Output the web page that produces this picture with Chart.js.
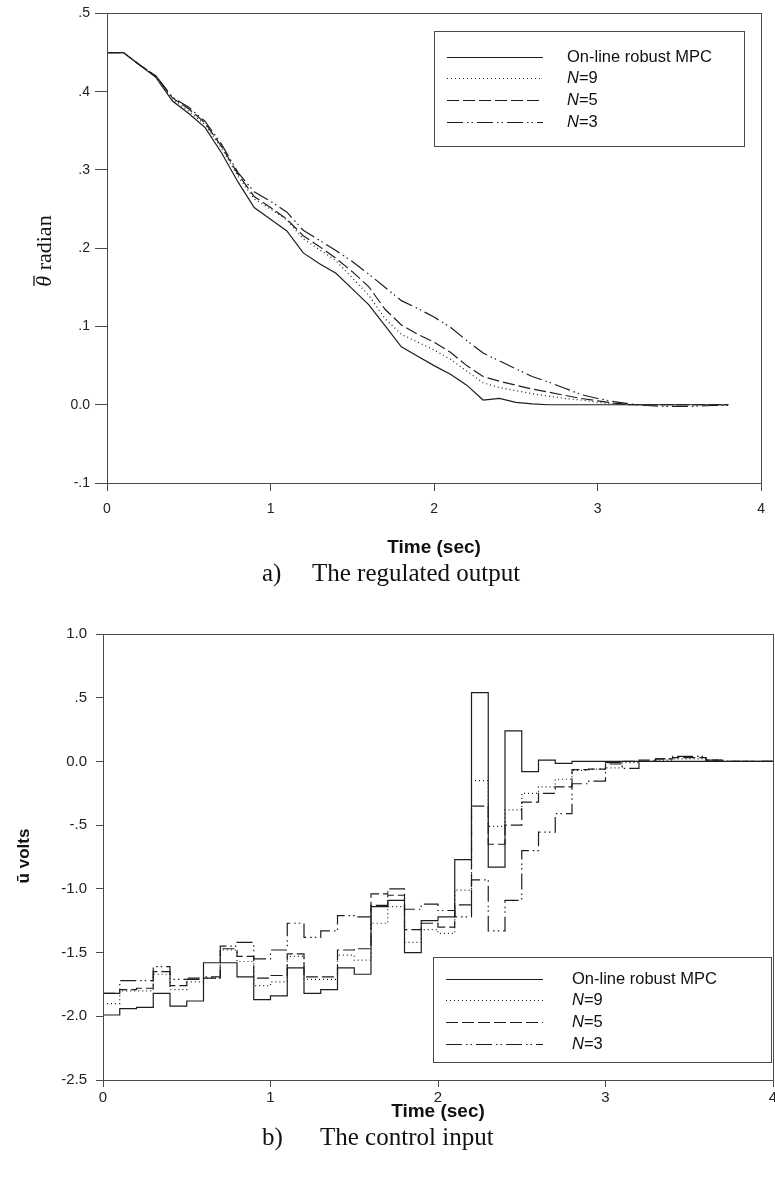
<!DOCTYPE html>
<html>
<head>
<meta charset="utf-8">
<script src="https://cdn.jsdelivr.net/npm/chart.js@4.4.1/dist/chart.umd.min.js"></script>
<style>
  html, body { margin: 0; padding: 0; background: #fff; width: 775px; height: 1182px; overflow: hidden; }
  #wrap { position: relative; width: 775px; height: 1182px; }
  canvas { position: absolute; left: 0; }
  #c1 { top: 0; }
  #c2 { top: 590px; }
  .cap { position: absolute; font-family: "Liberation Serif", "DejaVu Serif", serif; font-size: 25px;
         line-height: 28px; color: #111; white-space: pre; }
</style>
</head>
<body>
<div id="wrap">
  <canvas id="c1" width="775" height="560"></canvas>
  <canvas id="c2" width="800" height="560"></canvas>
  <div class="cap" style="left:262px;top:559px">a)</div>
  <div class="cap" style="left:312px;top:559px">The regulated output</div>
  <div class="cap" style="left:262px;top:1123px">b)</div>
  <div class="cap" style="left:320px;top:1123px">The control input</div>
</div>
<script>
// ---- series labels (legend order) ----
const seriesLabels = ['On-line robust MPC', 'N=9', 'N=5', 'N=3'];

// ---- a) regulated output, sampled every 0.1 s ----
const topTime = [0, 0.1, 0.2, 0.3, 0.4, 0.5, 0.6, 0.7, 0.8, 0.9,
                 1.0, 1.1, 1.2, 1.3, 1.4, 1.5, 1.6, 1.7, 1.8, 1.9,
                 2.0, 2.1, 2.2, 2.3, 2.4, 2.5, 2.6, 2.7, 2.8, 2.9,
                 3.0, 3.1, 3.2, 3.3, 3.4, 3.5, 3.6, 3.7, 3.8];
const topOnline = [0.450, 0.450, 0.434, 0.418, 0.388, 0.372, 0.354, 0.322, 0.285, 0.252,
                   0.237, 0.222, 0.194, 0.180, 0.168, 0.148, 0.128, 0.101, 0.074, 0.062,
                   0.050, 0.039, 0.025, 0.006, 0.008, 0.003, 0.001, 0, 0, 0,
                   0, 0, 0, 0, 0, 0, 0, 0, 0];
const topN9 = [0.450, 0.450, 0.434, 0.419, 0.390, 0.375, 0.358, 0.328, 0.292, 0.263,
               0.250, 0.236, 0.212, 0.198, 0.184, 0.162, 0.140, 0.110, 0.090, 0.080,
               0.070, 0.058, 0.043, 0.028, 0.022, 0.018, 0.014, 0.011, 0.008, 0.006,
               0.003, 0.001, 0, 0, 0, 0, 0, 0, 0];
const topN5 = [0.450, 0.450, 0.434, 0.420, 0.392, 0.378, 0.360, 0.330, 0.295, 0.266,
               0.252, 0.237, 0.216, 0.202, 0.187, 0.170, 0.151, 0.122, 0.102, 0.090,
               0.080, 0.067, 0.050, 0.036, 0.030, 0.025, 0.020, 0.016, 0.012, 0.008,
               0.005, 0.002, 0, 0, 0, 0, 0, 0, 0];
const topN3 = [0.450, 0.450, 0.434, 0.420, 0.393, 0.380, 0.362, 0.333, 0.297, 0.272,
               0.260, 0.246, 0.223, 0.210, 0.197, 0.183, 0.167, 0.150, 0.133, 0.123,
               0.112, 0.099, 0.082, 0.066, 0.056, 0.046, 0.036, 0.029, 0.021, 0.013,
               0.008, 0.004, 0.001, -0.001, -0.002, -0.002, -0.002, -0.001, -0.001];
const topYTicks = [-0.1, 0, 0.1, 0.2, 0.3, 0.4, 0.5];
const topYTickLabels = ['-.1', '0.0', '.1', '.2', '.3', '.4', '.5'];

// ---- b) control input, held over each 0.1 s interval ----
const botTime = [0, 0.1, 0.2, 0.3, 0.4, 0.5, 0.6, 0.7, 0.8, 0.9,
                 1.0, 1.1, 1.2, 1.3, 1.4, 1.5, 1.6, 1.7, 1.8, 1.9,
                 2.0, 2.1, 2.2, 2.3, 2.4, 2.5, 2.6, 2.7, 2.8, 2.9,
                 3.0, 3.1, 3.2, 3.3, 3.4, 3.5, 3.6, 3.7, 3.8, 3.9, 4.0];
const botOnline = [-1.99, -1.94, -1.93, -1.82, -1.92, -1.88, -1.58, -1.58, -1.69, -1.87,
                   -1.84, -1.62, -1.82, -1.79, -1.62, -1.67, -1.14, -1.09, -1.50, -1.25,
                   -1.22, -0.77, 0.54, -0.83, 0.24, -0.08, 0.01, -0.015, 0, 0,
                   0, 0, 0, 0, 0, 0, 0, 0, 0, 0, 0];
const botN9 = [-1.90, -1.80, -1.80, -1.67, -1.79, -1.73, -1.70, -1.48, -1.57, -1.76,
               -1.73, -1.53, -1.71, -1.71, -1.52, -1.56, -1.27, -1.14, -1.42, -1.32,
               -1.35, -1.01, -0.15, -0.51, -0.38, -0.25, -0.20, -0.14, -0.07, -0.06,
               -0.05, -0.01, 0, 0.01, 0.02, 0.02, 0.01, 0, 0, 0, 0];
const botN5 = [-1.82, -1.79, -1.78, -1.65, -1.76, -1.70, -1.70, -1.47, -1.53, -1.70,
               -1.68, -1.51, -1.69, -1.69, -1.48, -1.47, -1.04, -1.05, -1.32, -1.27,
               -1.30, -1.125, -0.35, -0.65, -0.50, -0.32, -0.25, -0.20, -0.065, -0.06,
               -0.02, 0, 0.01, 0.02, 0.03, 0.03, 0.01, 0, 0, 0, 0];
const botN3 = [-1.82, -1.72, -1.72, -1.61, -1.71, -1.71, -1.69, -1.45, -1.42, -1.55,
               -1.48, -1.27, -1.38, -1.33, -1.21, -1.22, -1.13, -1.00, -1.16, -1.12,
               -1.17, -1.22, -0.93, -1.33, -1.09, -0.70, -0.555, -0.41, -0.175, -0.155,
               -0.01, -0.055, 0, 0.02, 0.04, 0.04, 0.01, 0, 0, 0, 0];
const botYTicks = [-2.5, -2.0, -1.5, -1.0, -0.5, 0, 0.5, 1.0];
const botYTickLabels = ['-2.5', '-2.0', '-1.5', '-1.0', '-.5', '0.0', '.5', '1.0'];

const xTicks = [0, 1, 2, 3, 4];
const xTickLabels = ['0', '1', '2', '3', '4'];

// ---- shared styling ----
const SANS = '"Liberation Sans", Arial, sans-serif';
const SERIF = '"Liberation Serif", "Times New Roman", serif';
const INK = '#1e1e1e';
const AXIS = '#4a4a4a';
const dashes = [[], [1, 3], [12, 4], [16, 4, 1.5, 3, 1.5, 4]];

function makeSets(time, lists, stepped) {
  return lists.map((vals, i) => ({
    label: seriesLabels[i],
    data: vals.map((v, k) => ({ x: time[k], y: v })),
    borderColor: INK,
    borderWidth: 1.2,
    borderDash: dashes[i],
    borderCapStyle: 'butt',
    pointRadius: 0,
    pointHoverRadius: 0,
    fill: false,
    tension: 0,
    stepped: stepped,
    order: i
  }));
}

// frame, in-plot legend and y-axis title
const decor = {
  id: 'decor',
  afterDraw(chart, args, o) {
    const ctx = chart.ctx, a = chart.chartArea;
    ctx.save();
    ctx.strokeStyle = AXIS;
    ctx.lineWidth = 1;
    const l = Math.round(a.left), t = Math.round(a.top), r = Math.round(a.right), b = Math.round(a.bottom);
    ctx.strokeRect(l + 0.5, t + 0.5, r - l, b - t);

    const L = o.legend;
    ctx.fillStyle = '#fff';
    ctx.fillRect(L.x, L.y, L.w, L.h);
    ctx.strokeStyle = AXIS;
    ctx.lineWidth = 1;
    ctx.strokeRect(L.x + 0.5, L.y + 0.5, L.w, L.h);
    chart.data.datasets.forEach((ds, i) => {
      const y = L.rows[i];
      ctx.save();
      ctx.setLineDash(ds.borderDash || []);
      ctx.strokeStyle = ds.borderColor;
      ctx.lineWidth = ds.borderWidth;
      ctx.lineCap = 'butt';
      ctx.beginPath();
      ctx.moveTo(L.x0, y + 0.5);
      ctx.lineTo(L.x1, y + 0.5);
      ctx.stroke();
      ctx.restore();
      ctx.fillStyle = '#111';
      ctx.textBaseline = 'middle';
      ctx.textAlign = 'left';
      let x = L.tx;
      const m = /^N(=.*)$/.exec(ds.label);
      if (m) {
        ctx.font = 'italic ' + L.font;
        ctx.fillText('N', x, y);
        x += ctx.measureText('N').width;
        ctx.font = L.font;
        ctx.fillText(m[1], x, y);
      } else {
        ctx.font = L.font;
        ctx.fillText(ds.label, x, y);
      }
    });

    const T = o.yTitle;
    ctx.translate(T.x, T.y);
    ctx.rotate(-Math.PI / 2);
    let total = 0;
    T.parts.forEach(p => { ctx.font = p.font; total += ctx.measureText(p.text).width; });
    let x = -total / 2;
    ctx.textBaseline = 'middle';
    ctx.textAlign = 'left';
    ctx.fillStyle = '#111';
    T.parts.forEach(p => {
      ctx.font = p.font;
      const w = ctx.measureText(p.text).width;
      ctx.fillText(p.text, x, 0);
      if (p.bar) {
        ctx.beginPath();
        ctx.moveTo(x + p.bar[0], p.bar[2]);
        ctx.lineTo(x + w + p.bar[1], p.bar[2]);
        ctx.lineWidth = 1.3;
        ctx.strokeStyle = '#111';
        ctx.stroke();
      }
      x += w;
    });
    ctx.restore();
  }
};

function axisX(cfg) {
  return {
    type: 'linear', min: 0, max: 4,
    afterBuildTicks: s => { s.ticks = xTicks.map(v => ({ value: v })); },
    afterFit: s => { s.height = cfg.height; },
    ticks: { callback: (v, i) => xTickLabels[i], font: { family: SANS, size: cfg.font },
             color: '#222', padding: cfg.pad, maxRotation: 0, autoSkip: false },
    grid: { drawOnChartArea: false, drawTicks: true, tickLength: cfg.tick, color: AXIS },
    border: { display: true, color: AXIS, width: 1 },
    title: { display: true, text: 'Time (sec)', color: '#111',
             font: { family: SANS, size: 19, weight: 'bold' }, padding: { top: 0, bottom: cfg.titlePad } }
  };
}

function axisY(cfg) {
  return {
    type: 'linear', min: cfg.min, max: cfg.max,
    afterBuildTicks: s => { s.ticks = cfg.ticks.map(v => ({ value: v })); },
    afterFit: s => { s.width = cfg.width; },
    ticks: { callback: (v, i) => cfg.labels[i], font: { family: SANS, size: cfg.font },
             color: '#222', padding: cfg.pad, autoSkip: false },
    grid: { drawOnChartArea: false, drawTicks: true, tickLength: cfg.tick, color: AXIS },
    border: { display: true, color: AXIS, width: 1 }
  };
}

Chart.defaults.animation = false;

new Chart(document.getElementById('c1'), {
  type: 'line',
  data: { datasets: makeSets(topTime, [topOnline, topN9, topN5, topN3], false) },
  plugins: [decor],
  options: {
    responsive: false,
    devicePixelRatio: 1,
    animation: false,
    layout: { padding: { top: 13, right: 13, left: 0, bottom: 0 } },
    scales: {
      x: axisX({ height: 77, font: 14, pad: 10, tick: 8, titlePad: 1 }),
      y: axisY({ min: -0.1, max: 0.5, ticks: topYTicks, labels: topYTickLabels,
                 width: 107, font: 14, pad: 5, tick: 12 })
    },
    plugins: {
      legend: { display: false },
      tooltip: { enabled: false },
      decor: {
        legend: { x: 434, y: 31, w: 310, h: 115, rows: [57, 78, 100, 122],
                  x0: 447, x1: 543, tx: 567, font: '16.5px ' + SANS },
        yTitle: { x: 45, y: 251, parts: [
          { text: 'θ', font: 'italic 22px ' + SERIF, bar: [1, 0, -11] },
          { text: ' radian', font: '22px ' + SERIF }
        ] }
      }
    }
  }
});

new Chart(document.getElementById('c2'), {
  type: 'line',
  data: { datasets: makeSets(botTime, [botOnline, botN9, botN5, botN3], true) },
  plugins: [decor],
  options: {
    responsive: false,
    devicePixelRatio: 1,
    animation: false,
    layout: { padding: { top: 44, right: 27, left: 0, bottom: 0 } },
    scales: {
      x: axisX({ height: 70, font: 15, pad: 2, tick: 7, titlePad: 27 }),
      y: axisY({ min: -2.5, max: 1.0, ticks: botYTicks, labels: botYTickLabels,
                 width: 103, font: 15, pad: 9, tick: 7 })
    },
    plugins: {
      legend: { display: false },
      tooltip: { enabled: false },
      decor: {
        legend: { x: 433, y: 367, w: 338, h: 105, rows: [389, 410, 432, 454],
                  x0: 446, x1: 543, tx: 572, font: '16.5px ' + SANS },
        yTitle: { x: 24, y: 266, parts: [
          { text: 'ū volts', font: 'bold 17px ' + SANS }
        ] }
      }
    }
  }
});
</script>
</body>
</html>
